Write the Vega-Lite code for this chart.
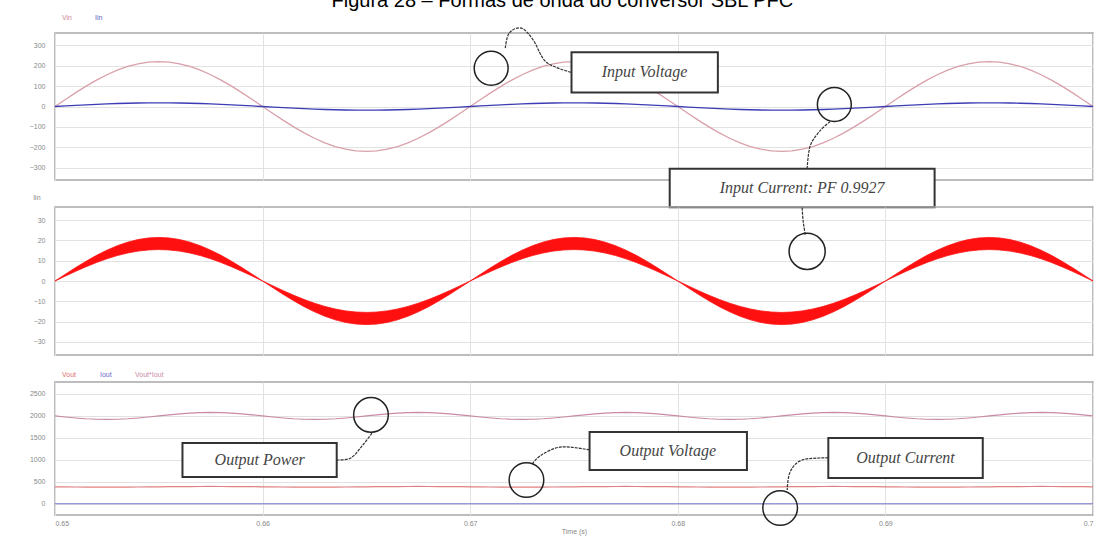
{
 "$schema": "https://vega.github.io/schema/vega-lite/v6.json",
 "padding": {"left": 28, "top": -9, "right": 4, "bottom": 2},
 "title": {"text": "Figura 28 – Formas de onda do conversor SBL PFC", "fontSize": 20, "font": "Liberation Sans", "fontWeight": "normal", "color": "#000", "anchor": "middle", "offset": 2},
 "bounds": "flush",
 "spacing": 27,
 "resolve": {"scale": {"color": "independent"}, "legend": {"color": "independent"}},
 "config": {
  "view": {"stroke": "#a8a8a8", "strokeWidth": 1.5},
  "axis": {"labelFontSize": 7, "labelColor": "#888", "labelFont": "Liberation Sans", "ticks": false, "domain": false, "gridColor": "#e2e2e2", "gridWidth": 1, "titleFontSize": 7, "titleFontWeight": "normal", "titleColor": "#888", "titleFont": "Liberation Sans", "labelOverlap": false, "tickCount": 20},
  "axisY": {"labelPadding": 10, "format": "d"},
  "legend": {"orient": "top", "direction": "horizontal", "labelFontSize": 7, "labelFont": "Liberation Sans", "symbolSize": 0, "symbolStrokeWidth": 0, "symbolOpacity": 0, "columnPadding": 16, "labelOffset": 0, "offset": 4, "padding": 0}
 },
 "datasets": {
  "w": [
   {"t":0.65,"Vin":0,"Iin":0,"a":0,"b":0,"P":2000,"Vout":390,"Iout":5},
   {"t":0.6505,"Vin":34.4,"Iin":2.8,"a":3.36,"b":2.42,"P":1975,"Vout":387.5,"Iout":5},
   {"t":0.651,"Vin":68,"Iin":5.6,"a":6.64,"b":4.79,"P":1953,"Vout":385.3,"Iout":5},
   {"t":0.6515,"Vin":99.9,"Iin":8.2,"a":9.76,"b":7.04,"P":1935,"Vout":383.5,"Iout":5},
   {"t":0.652,"Vin":129.3,"Iin":10.6,"a":12.64,"b":9.11,"P":1924,"Vout":382.4,"Iout":5},
   {"t":0.6525,"Vin":155.6,"Iin":12.7,"a":15.2,"b":10.96,"P":1920,"Vout":382,"Iout":5},
   {"t":0.653,"Vin":178,"Iin":14.6,"a":17.39,"b":12.54,"P":1924,"Vout":382.4,"Iout":5},
   {"t":0.6535,"Vin":196,"Iin":16,"a":19.16,"b":13.81,"P":1935,"Vout":383.5,"Iout":5},
   {"t":0.654,"Vin":209.2,"Iin":17.1,"a":20.45,"b":14.74,"P":1953,"Vout":385.3,"Iout":5},
   {"t":0.6545,"Vin":217.3,"Iin":17.8,"a":21.24,"b":15.31,"P":1975,"Vout":387.5,"Iout":5},
   {"t":0.655,"Vin":220,"Iin":18,"a":21.5,"b":15.5,"P":2000,"Vout":390,"Iout":5},
   {"t":0.6555,"Vin":217.3,"Iin":17.8,"a":21.24,"b":15.31,"P":2025,"Vout":392.5,"Iout":5},
   {"t":0.656,"Vin":209.2,"Iin":17.1,"a":20.45,"b":14.74,"P":2047,"Vout":394.7,"Iout":5},
   {"t":0.6565,"Vin":196,"Iin":16,"a":19.16,"b":13.81,"P":2065,"Vout":396.5,"Iout":5},
   {"t":0.657,"Vin":178,"Iin":14.6,"a":17.39,"b":12.54,"P":2076,"Vout":397.6,"Iout":5},
   {"t":0.6575,"Vin":155.6,"Iin":12.7,"a":15.2,"b":10.96,"P":2080,"Vout":398,"Iout":5},
   {"t":0.658,"Vin":129.3,"Iin":10.6,"a":12.64,"b":9.11,"P":2076,"Vout":397.6,"Iout":5},
   {"t":0.6585,"Vin":99.9,"Iin":8.2,"a":9.76,"b":7.04,"P":2065,"Vout":396.5,"Iout":5},
   {"t":0.659,"Vin":68,"Iin":5.6,"a":6.64,"b":4.79,"P":2047,"Vout":394.7,"Iout":5},
   {"t":0.6595,"Vin":34.4,"Iin":2.8,"a":3.36,"b":2.42,"P":2025,"Vout":392.5,"Iout":5},
   {"t":0.66,"Vin":0,"Iin":0,"a":0,"b":0,"P":2000,"Vout":390,"Iout":5},
   {"t":0.6605,"Vin":-34.4,"Iin":-2.8,"a":-3.36,"b":-2.42,"P":1975,"Vout":387.5,"Iout":5},
   {"t":0.661,"Vin":-68,"Iin":-5.6,"a":-6.64,"b":-4.79,"P":1953,"Vout":385.3,"Iout":5},
   {"t":0.6615,"Vin":-99.9,"Iin":-8.2,"a":-9.76,"b":-7.04,"P":1935,"Vout":383.5,"Iout":5},
   {"t":0.662,"Vin":-129.3,"Iin":-10.6,"a":-12.64,"b":-9.11,"P":1924,"Vout":382.4,"Iout":5},
   {"t":0.6625,"Vin":-155.6,"Iin":-12.7,"a":-15.2,"b":-10.96,"P":1920,"Vout":382,"Iout":5},
   {"t":0.663,"Vin":-178,"Iin":-14.6,"a":-17.39,"b":-12.54,"P":1924,"Vout":382.4,"Iout":5},
   {"t":0.6635,"Vin":-196,"Iin":-16,"a":-19.16,"b":-13.81,"P":1935,"Vout":383.5,"Iout":5},
   {"t":0.664,"Vin":-209.2,"Iin":-17.1,"a":-20.45,"b":-14.74,"P":1953,"Vout":385.3,"Iout":5},
   {"t":0.6645,"Vin":-217.3,"Iin":-17.8,"a":-21.24,"b":-15.31,"P":1975,"Vout":387.5,"Iout":5},
   {"t":0.665,"Vin":-220,"Iin":-18,"a":-21.5,"b":-15.5,"P":2000,"Vout":390,"Iout":5},
   {"t":0.6655,"Vin":-217.3,"Iin":-17.8,"a":-21.24,"b":-15.31,"P":2025,"Vout":392.5,"Iout":5},
   {"t":0.666,"Vin":-209.2,"Iin":-17.1,"a":-20.45,"b":-14.74,"P":2047,"Vout":394.7,"Iout":5},
   {"t":0.6665,"Vin":-196,"Iin":-16,"a":-19.16,"b":-13.81,"P":2065,"Vout":396.5,"Iout":5},
   {"t":0.667,"Vin":-178,"Iin":-14.6,"a":-17.39,"b":-12.54,"P":2076,"Vout":397.6,"Iout":5},
   {"t":0.6675,"Vin":-155.6,"Iin":-12.7,"a":-15.2,"b":-10.96,"P":2080,"Vout":398,"Iout":5},
   {"t":0.668,"Vin":-129.3,"Iin":-10.6,"a":-12.64,"b":-9.11,"P":2076,"Vout":397.6,"Iout":5},
   {"t":0.6685,"Vin":-99.9,"Iin":-8.2,"a":-9.76,"b":-7.04,"P":2065,"Vout":396.5,"Iout":5},
   {"t":0.669,"Vin":-68,"Iin":-5.6,"a":-6.64,"b":-4.79,"P":2047,"Vout":394.7,"Iout":5},
   {"t":0.6695,"Vin":-34.4,"Iin":-2.8,"a":-3.36,"b":-2.42,"P":2025,"Vout":392.5,"Iout":5},
   {"t":0.67,"Vin":0,"Iin":0,"a":0,"b":0,"P":2000,"Vout":390,"Iout":5},
   {"t":0.6705,"Vin":34.4,"Iin":2.8,"a":3.36,"b":2.42,"P":1975,"Vout":387.5,"Iout":5},
   {"t":0.671,"Vin":68,"Iin":5.6,"a":6.64,"b":4.79,"P":1953,"Vout":385.3,"Iout":5},
   {"t":0.6715,"Vin":99.9,"Iin":8.2,"a":9.76,"b":7.04,"P":1935,"Vout":383.5,"Iout":5},
   {"t":0.672,"Vin":129.3,"Iin":10.6,"a":12.64,"b":9.11,"P":1924,"Vout":382.4,"Iout":5},
   {"t":0.6725,"Vin":155.6,"Iin":12.7,"a":15.2,"b":10.96,"P":1920,"Vout":382,"Iout":5},
   {"t":0.673,"Vin":178,"Iin":14.6,"a":17.39,"b":12.54,"P":1924,"Vout":382.4,"Iout":5},
   {"t":0.6735,"Vin":196,"Iin":16,"a":19.16,"b":13.81,"P":1935,"Vout":383.5,"Iout":5},
   {"t":0.674,"Vin":209.2,"Iin":17.1,"a":20.45,"b":14.74,"P":1953,"Vout":385.3,"Iout":5},
   {"t":0.6745,"Vin":217.3,"Iin":17.8,"a":21.24,"b":15.31,"P":1975,"Vout":387.5,"Iout":5},
   {"t":0.675,"Vin":220,"Iin":18,"a":21.5,"b":15.5,"P":2000,"Vout":390,"Iout":5},
   {"t":0.6755,"Vin":217.3,"Iin":17.8,"a":21.24,"b":15.31,"P":2025,"Vout":392.5,"Iout":5},
   {"t":0.676,"Vin":209.2,"Iin":17.1,"a":20.45,"b":14.74,"P":2047,"Vout":394.7,"Iout":5},
   {"t":0.6765,"Vin":196,"Iin":16,"a":19.16,"b":13.81,"P":2065,"Vout":396.5,"Iout":5},
   {"t":0.677,"Vin":178,"Iin":14.6,"a":17.39,"b":12.54,"P":2076,"Vout":397.6,"Iout":5},
   {"t":0.6775,"Vin":155.6,"Iin":12.7,"a":15.2,"b":10.96,"P":2080,"Vout":398,"Iout":5},
   {"t":0.678,"Vin":129.3,"Iin":10.6,"a":12.64,"b":9.11,"P":2076,"Vout":397.6,"Iout":5},
   {"t":0.6785,"Vin":99.9,"Iin":8.2,"a":9.76,"b":7.04,"P":2065,"Vout":396.5,"Iout":5},
   {"t":0.679,"Vin":68,"Iin":5.6,"a":6.64,"b":4.79,"P":2047,"Vout":394.7,"Iout":5},
   {"t":0.6795,"Vin":34.4,"Iin":2.8,"a":3.36,"b":2.42,"P":2025,"Vout":392.5,"Iout":5},
   {"t":0.68,"Vin":0,"Iin":0,"a":0,"b":0,"P":2000,"Vout":390,"Iout":5},
   {"t":0.6805,"Vin":-34.4,"Iin":-2.8,"a":-3.36,"b":-2.42,"P":1975,"Vout":387.5,"Iout":5},
   {"t":0.681,"Vin":-68,"Iin":-5.6,"a":-6.64,"b":-4.79,"P":1953,"Vout":385.3,"Iout":5},
   {"t":0.6815,"Vin":-99.9,"Iin":-8.2,"a":-9.76,"b":-7.04,"P":1935,"Vout":383.5,"Iout":5},
   {"t":0.682,"Vin":-129.3,"Iin":-10.6,"a":-12.64,"b":-9.11,"P":1924,"Vout":382.4,"Iout":5},
   {"t":0.6825,"Vin":-155.6,"Iin":-12.7,"a":-15.2,"b":-10.96,"P":1920,"Vout":382,"Iout":5},
   {"t":0.683,"Vin":-178,"Iin":-14.6,"a":-17.39,"b":-12.54,"P":1924,"Vout":382.4,"Iout":5},
   {"t":0.6835,"Vin":-196,"Iin":-16,"a":-19.16,"b":-13.81,"P":1935,"Vout":383.5,"Iout":5},
   {"t":0.684,"Vin":-209.2,"Iin":-17.1,"a":-20.45,"b":-14.74,"P":1953,"Vout":385.3,"Iout":5},
   {"t":0.6845,"Vin":-217.3,"Iin":-17.8,"a":-21.24,"b":-15.31,"P":1975,"Vout":387.5,"Iout":5},
   {"t":0.685,"Vin":-220,"Iin":-18,"a":-21.5,"b":-15.5,"P":2000,"Vout":390,"Iout":5},
   {"t":0.6855,"Vin":-217.3,"Iin":-17.8,"a":-21.24,"b":-15.31,"P":2025,"Vout":392.5,"Iout":5},
   {"t":0.686,"Vin":-209.2,"Iin":-17.1,"a":-20.45,"b":-14.74,"P":2047,"Vout":394.7,"Iout":5},
   {"t":0.6865,"Vin":-196,"Iin":-16,"a":-19.16,"b":-13.81,"P":2065,"Vout":396.5,"Iout":5},
   {"t":0.687,"Vin":-178,"Iin":-14.6,"a":-17.39,"b":-12.54,"P":2076,"Vout":397.6,"Iout":5},
   {"t":0.6875,"Vin":-155.6,"Iin":-12.7,"a":-15.2,"b":-10.96,"P":2080,"Vout":398,"Iout":5},
   {"t":0.688,"Vin":-129.3,"Iin":-10.6,"a":-12.64,"b":-9.11,"P":2076,"Vout":397.6,"Iout":5},
   {"t":0.6885,"Vin":-99.9,"Iin":-8.2,"a":-9.76,"b":-7.04,"P":2065,"Vout":396.5,"Iout":5},
   {"t":0.689,"Vin":-68,"Iin":-5.6,"a":-6.64,"b":-4.79,"P":2047,"Vout":394.7,"Iout":5},
   {"t":0.6895,"Vin":-34.4,"Iin":-2.8,"a":-3.36,"b":-2.42,"P":2025,"Vout":392.5,"Iout":5},
   {"t":0.69,"Vin":0,"Iin":0,"a":0,"b":0,"P":2000,"Vout":390,"Iout":5},
   {"t":0.6905,"Vin":34.4,"Iin":2.8,"a":3.36,"b":2.42,"P":1975,"Vout":387.5,"Iout":5},
   {"t":0.691,"Vin":68,"Iin":5.6,"a":6.64,"b":4.79,"P":1953,"Vout":385.3,"Iout":5},
   {"t":0.6915,"Vin":99.9,"Iin":8.2,"a":9.76,"b":7.04,"P":1935,"Vout":383.5,"Iout":5},
   {"t":0.692,"Vin":129.3,"Iin":10.6,"a":12.64,"b":9.11,"P":1924,"Vout":382.4,"Iout":5},
   {"t":0.6925,"Vin":155.6,"Iin":12.7,"a":15.2,"b":10.96,"P":1920,"Vout":382,"Iout":5},
   {"t":0.693,"Vin":178,"Iin":14.6,"a":17.39,"b":12.54,"P":1924,"Vout":382.4,"Iout":5},
   {"t":0.6935,"Vin":196,"Iin":16,"a":19.16,"b":13.81,"P":1935,"Vout":383.5,"Iout":5},
   {"t":0.694,"Vin":209.2,"Iin":17.1,"a":20.45,"b":14.74,"P":1953,"Vout":385.3,"Iout":5},
   {"t":0.6945,"Vin":217.3,"Iin":17.8,"a":21.24,"b":15.31,"P":1975,"Vout":387.5,"Iout":5},
   {"t":0.695,"Vin":220,"Iin":18,"a":21.5,"b":15.5,"P":2000,"Vout":390,"Iout":5},
   {"t":0.6955,"Vin":217.3,"Iin":17.8,"a":21.24,"b":15.31,"P":2025,"Vout":392.5,"Iout":5},
   {"t":0.696,"Vin":209.2,"Iin":17.1,"a":20.45,"b":14.74,"P":2047,"Vout":394.7,"Iout":5},
   {"t":0.6965,"Vin":196,"Iin":16,"a":19.16,"b":13.81,"P":2065,"Vout":396.5,"Iout":5},
   {"t":0.697,"Vin":178,"Iin":14.6,"a":17.39,"b":12.54,"P":2076,"Vout":397.6,"Iout":5},
   {"t":0.6975,"Vin":155.6,"Iin":12.7,"a":15.2,"b":10.96,"P":2080,"Vout":398,"Iout":5},
   {"t":0.698,"Vin":129.3,"Iin":10.6,"a":12.64,"b":9.11,"P":2076,"Vout":397.6,"Iout":5},
   {"t":0.6985,"Vin":99.9,"Iin":8.2,"a":9.76,"b":7.04,"P":2065,"Vout":396.5,"Iout":5},
   {"t":0.699,"Vin":68,"Iin":5.6,"a":6.64,"b":4.79,"P":2047,"Vout":394.7,"Iout":5},
   {"t":0.6995,"Vin":34.4,"Iin":2.8,"a":3.36,"b":2.42,"P":2025,"Vout":392.5,"Iout":5},
   {"t":0.7,"Vin":0,"Iin":0,"a":0,"b":0,"P":2000,"Vout":390,"Iout":5}
  ],
  "box1": [
   {"label":"Input Voltage","t":0.6784,"v":167,"t1":0.67488,"t2":0.68193,"v1":266,"v2":69},
   {"label":"Input Current: PF 0.9927","t":0.68599,"v":-399,"t1":0.67961,"t2":0.69237,"v1":-305,"v2":-493}
  ],
  "circ1": [{"t":0.67101,"v":187},{"t":0.68754,"v":10}],
  "arr1": [
   {"id":1,"o":1,"t":0.67169,"v":286},{"id":1,"o":2,"t":0.67188,"v":360},{"id":1,"o":3,"t":0.67246,"v":384},{"id":1,"o":4,"t":0.67304,"v":325},{"id":1,"o":5,"t":0.67367,"v":217},{"id":1,"o":6,"t":0.67488,"v":167},
   {"id":2,"o":1,"t":0.68734,"v":-74},{"id":2,"o":2,"t":0.68686,"v":-118},{"id":2,"o":3,"t":0.68638,"v":-192},{"id":2,"o":4,"t":0.68623,"v":-305}
  ],
  "circ2": [{"t":0.68623,"v":14.6}],
  "arr2": [{"id":3,"o":1,"t":0.68599,"v":36.1},{"id":3,"o":2,"t":0.68604,"v":29.3},{"id":3,"o":3,"t":0.68614,"v":22.9}],
  "box3": [
   {"label":"Output Power","t":0.65986,"v":1000,"t1":0.65614,"t2":0.66357,"v1":1386,"v2":614},
   {"label":"Output Voltage","t":0.67952,"v":1205,"t1":0.67575,"t2":0.68333,"v1":1637,"v2":773},
   {"label":"Output Current","t":0.69097,"v":1046,"t1":0.68725,"t2":0.69469,"v1":1500,"v2":591}
  ],
  "circ3": [{"t":0.66522,"v":2023},{"t":0.67271,"v":545},{"t":0.68493,"v":-91}],
  "arr3": [
   {"id":4,"o":1,"t":0.66357,"v":1000},{"id":4,"o":2,"t":0.66425,"v":1046},{"id":4,"o":3,"t":0.66483,"v":1341},{"id":4,"o":4,"t":0.66531,"v":1637},
   {"id":5,"o":1,"t":0.67575,"v":1227},{"id":5,"o":2,"t":0.6744,"v":1296},{"id":5,"o":3,"t":0.67343,"v":1114},{"id":5,"o":4,"t":0.67295,"v":886},
   {"id":6,"o":1,"t":0.68725,"v":1046},{"id":6,"o":2,"t":0.68599,"v":1000},{"id":6,"o":3,"t":0.68541,"v":727},{"id":6,"o":4,"t":0.68527,"v":318}
  ]
 },
 "vconcat": [
  {
   "width": 1038, "height": 147,
   "layer": [
    {"data": {"name": "w"}, "transform": [{"fold": ["Vin", "Iin"], "as": ["s", "v"]}],
     "mark": {"type": "line", "strokeWidth": 1.3},
     "encoding": {
      "x": {"field": "t", "type": "quantitative", "scale": {"domain": [0.65, 0.7], "nice": false, "zero": false}, "axis": {"values": [0.65, 0.66, 0.67, 0.68, 0.69, 0.7], "labels": false, "title": null, "grid": true}},
      "y": {"field": "v", "type": "quantitative", "scale": {"domain": [-360, 360], "nice": false}, "axis": {"values": [-300, -200, -100, 0, 100, 200, 300], "title": null}},
      "color": {"field": "s", "type": "nominal", "scale": {"domain": ["Vin", "Iin"], "range": ["#d9a0aa", "#3c3cb4"]},
       "legend": {"title": null, "encode": {"labels": {"update": {"fill": {"signal": "datum.value === 'Vin' ? '#d08a98' : '#6060c0'"}}}}}}
     }},
    {"data": {"name": "arr1"}, "mark": {"type": "line", "interpolate": "cardinal", "stroke": "#333", "strokeWidth": 1.2, "strokeDash": [3, 1]},
     "encoding": {"x": {"field": "t", "type": "quantitative"}, "y": {"field": "v", "type": "quantitative"}, "detail": {"field": "id"}, "order": {"field": "o"}}},
    {"data": {"name": "circ1"}, "mark": {"type": "point", "shape": "circle", "size": 1150, "filled": false, "stroke": "#222", "strokeWidth": 1.5, "opacity": 1},
     "encoding": {"x": {"field": "t", "type": "quantitative"}, "y": {"field": "v", "type": "quantitative"}}},
    {"data": {"name": "box1"}, "mark": {"type": "rect", "fill": "#fff", "stroke": "#333", "strokeWidth": 2},
     "encoding": {"x": {"field": "t1", "type": "quantitative"}, "x2": {"field": "t2"}, "y": {"field": "v1", "type": "quantitative"}, "y2": {"field": "v2"}}},
    {"data": {"name": "box1"}, "mark": {"type": "text", "font": "Liberation Serif", "fontStyle": "italic", "fontSize": 16, "color": "#444"},
     "encoding": {"x": {"field": "t", "type": "quantitative"}, "y": {"field": "v", "type": "quantitative"}, "text": {"field": "label"}}}
   ]
  },
  {
   "width": 1038, "height": 148,
   "title": {"text": "Iin", "anchor": "start", "fontSize": 7, "color": "#888", "fontWeight": "normal", "font": "Liberation Sans", "offset": 4},
   "layer": [
    {"data": {"name": "w"}, "mark": {"type": "area", "color": "#ff1010", "stroke": "#ff1010", "strokeWidth": 0.8},
     "encoding": {
      "x": {"field": "t", "type": "quantitative", "scale": {"domain": [0.65, 0.7], "nice": false, "zero": false}, "axis": {"values": [0.65, 0.66, 0.67, 0.68, 0.69, 0.7], "labels": false, "title": null, "grid": true}},
      "y": {"field": "a", "type": "quantitative", "scale": {"domain": [-36.5, 36.5], "nice": false}, "axis": {"values": [-30, -20, -10, 0, 10, 20, 30], "title": null}},
      "y2": {"field": "b"}
     }},
    {"data": {"name": "arr2"}, "mark": {"type": "line", "interpolate": "cardinal", "stroke": "#333", "strokeWidth": 1.2, "strokeDash": [3, 1]},
     "encoding": {"x": {"field": "t", "type": "quantitative"}, "y": {"field": "v", "type": "quantitative"}, "detail": {"field": "id"}, "order": {"field": "o"}}},
    {"data": {"name": "circ2"}, "mark": {"type": "point", "shape": "circle", "size": 1300, "filled": false, "stroke": "#222", "strokeWidth": 1.5, "opacity": 1},
     "encoding": {"x": {"field": "t", "type": "quantitative"}, "y": {"field": "v", "type": "quantitative"}}}
   ]
  },
  {
   "width": 1038, "height": 133,
   "layer": [
    {"data": {"name": "w"}, "transform": [{"fold": ["Vout", "Iout", "P"], "as": ["s", "v"]}],
     "mark": {"type": "line", "strokeWidth": 1.2},
     "encoding": {
      "x": {"field": "t", "type": "quantitative", "scale": {"domain": [0.65, 0.7], "nice": false, "zero": false}, "axis": {"values": [0.65, 0.66, 0.67, 0.68, 0.69, 0.7], "format": "~g", "title": "Time (s)", "grid": true, "labelPadding": 4, "titlePadding": 1}},
      "y": {"field": "v", "type": "quantitative", "scale": {"domain": [-250, 2770], "nice": false}, "axis": {"values": [0, 500, 1000, 1500, 2000, 2500], "title": null}},
      "color": {"field": "s", "type": "nominal", "scale": {"domain": ["Vout", "Iout", "P"], "range": ["#e08080", "#7777cc", "#c98aa6"]},
       "legend": {"title": null, "labelExpr": "datum.value === 'P' ? 'Vout*Iout' : datum.value", "encode": {"labels": {"update": {"fill": {"signal": "datum.value === 'Vout' ? '#e07070' : datum.value === 'Iout' ? '#6a6acc' : '#c98aa6'"}}}}}}
     }},
    {"data": {"name": "arr3"}, "mark": {"type": "line", "interpolate": "cardinal", "stroke": "#333", "strokeWidth": 1.2, "strokeDash": [3, 1]},
     "encoding": {"x": {"field": "t", "type": "quantitative"}, "y": {"field": "v", "type": "quantitative"}, "detail": {"field": "id"}, "order": {"field": "o"}}},
    {"data": {"name": "circ3"}, "mark": {"type": "point", "shape": "circle", "size": 1200, "filled": false, "stroke": "#222", "strokeWidth": 1.5, "opacity": 1},
     "encoding": {"x": {"field": "t", "type": "quantitative"}, "y": {"field": "v", "type": "quantitative"}}},
    {"data": {"name": "box3"}, "mark": {"type": "rect", "fill": "#fff", "stroke": "#333", "strokeWidth": 2},
     "encoding": {"x": {"field": "t1", "type": "quantitative"}, "x2": {"field": "t2"}, "y": {"field": "v1", "type": "quantitative"}, "y2": {"field": "v2"}}},
    {"data": {"name": "box3"}, "mark": {"type": "text", "font": "Liberation Serif", "fontStyle": "italic", "fontSize": 16, "color": "#444"},
     "encoding": {"x": {"field": "t", "type": "quantitative"}, "y": {"field": "v", "type": "quantitative"}, "text": {"field": "label"}}}
   ]
  }
 ]
}
